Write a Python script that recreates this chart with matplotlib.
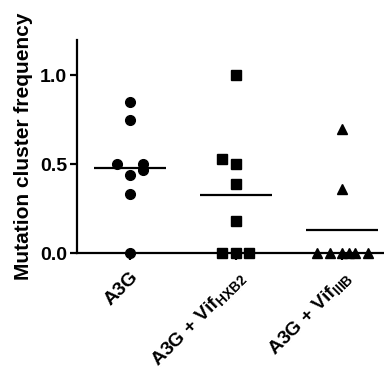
import matplotlib
matplotlib.use('Agg')
from matplotlib import pyplot as plt

plt.rcParams['font.family'] = ['Liberation Sans', 'DejaVu Sans']
plt.rcParams['font.weight'] = 'bold'
plt.rcParams['mathtext.fontset'] = 'custom'
plt.rcParams['mathtext.rm'] = 'Liberation Sans:bold'
plt.rcParams['mathtext.bf'] = 'Liberation Sans:bold'

GROUPS = ['A3G', r'A3G + Vif$_{\mathrm{HXB2}}$', r'A3G + Vif$_{\mathrm{IIIB}}$']

a3g = [0.85, 0.75, 0.50, 0.50, 0.465, 0.437, 0.33, 0.0]
vif_hxb2 = [1.0, 0.53, 0.50, 0.39, 0.18, 0.0, 0.0, 0.0]
vif_iiib = [0.70, 0.36, 0.0, 0.0, 0.0, 0.0, 0.0, 0.0]

# side-by-side spread of overlapping points (as the scatter plot lays them out)
a3g_spread = [0, 0, -0.12, 0.12, 0.12, 0, 0, 0]
hxb2_spread = [0, -0.13, 0, 0, 0, -0.13, 0, 0.12]
iiib_spread = [0, 0, -0.24, -0.116, 0, 0.066, 0.12, 0.245]

SERIES = [(a3g, a3g_spread, 'o', 7),
          (vif_hxb2, hxb2_spread, 's', 6.5),
          (vif_iiib, iiib_spread, '^', 7)]

fig = plt.figure(figsize=(3.84, 3.70), dpi=100)
ax = fig.add_axes([0.2005, 0.316, 0.828, 0.576])

for i, (values, spread, marker, size) in enumerate(SERIES):
    xs = [i + s for s in spread]
    ax.plot(xs, values, linestyle='none', marker=marker, color='black',
            markersize=size, clip_on=False, zorder=3)
    mean = sum(values) / len(values)
    ax.hlines(mean, i - 0.34, i + 0.34, color='black', linewidth=1.6, zorder=2)

ax.set_xlim(-0.5, 2.5)
ax.set_ylim(0, 1.2)
ax.set_yticks([0.0, 0.5, 1.0])
ax.set_yticklabels(['0.0', '0.5', '1.0'], fontsize=14, fontweight='bold')
ax.set_xticks(range(len(GROUPS)))
ax.set_xticklabels(GROUPS, rotation=45, ha='right', rotation_mode='anchor',
                   fontsize=14, fontweight='bold')
ax.set_ylabel('Mutation cluster frequency', fontsize=15, fontweight='bold', labelpad=5)

for side in ['top', 'right']:
    ax.spines[side].set_visible(False)
for side in ['left', 'bottom']:
    ax.spines[side].set_linewidth(1.6)
ax.tick_params(axis='both', width=1.6, length=5, direction='out', pad=2)
ax.tick_params(axis='x', pad=6)

plt.savefig('out.png', dpi=100)
